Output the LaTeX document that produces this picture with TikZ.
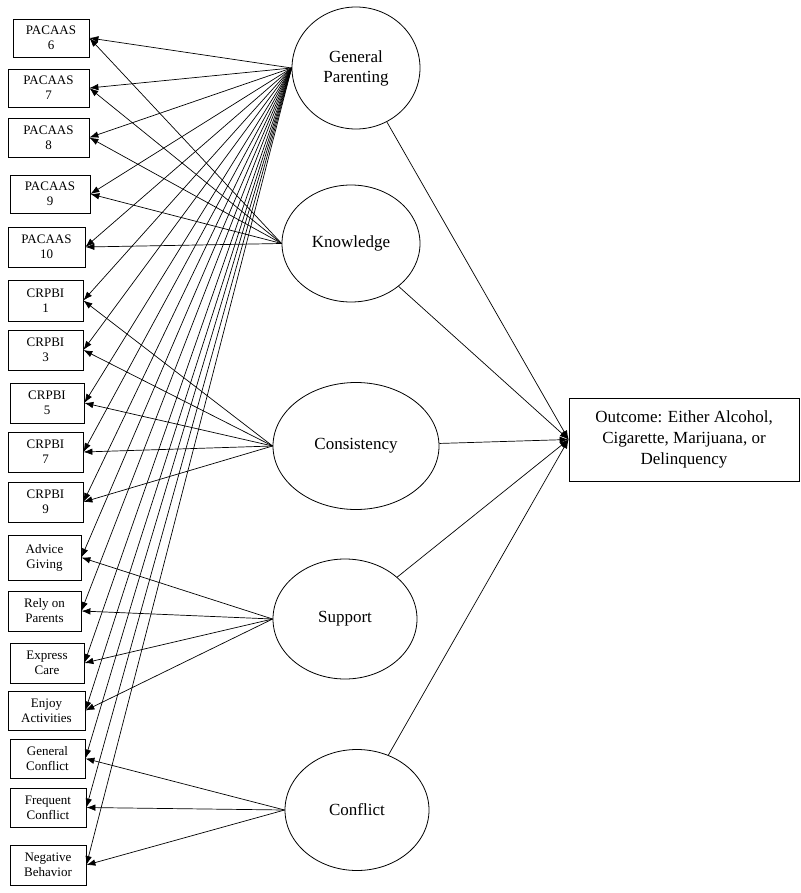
\documentclass[tikz,border=0pt]{standalone}
\usepackage{fontspec}
\setmainfont{Liberation Serif}
\usetikzlibrary{shapes.geometric,arrows.meta}
\begin{document}
\begin{tikzpicture}[x=1pt,y=-1pt,
 box/.style={draw,line width=0.8pt,inner sep=0pt,align=center,font=\fontsize{13}{15}\selectfont},
 lat/.style={draw,ellipse,line width=0.8pt,inner sep=0pt,align=center,font=\fontsize{17}{20}\selectfont},
 arr/.style={line width=0.7pt,-{Latex[length=9pt,width=6.5pt]}}]
\useasboundingbox (0,0) rectangle (800,893);
% indicator boxes
\node[box,minimum width=76pt,minimum height=38pt] (p6) at (51,38) {PACAAS\\6};
\node[box,minimum width=81pt,minimum height=38pt] (p7) at (48.5,88) {PACAAS\\7};
\node[box,minimum width=81pt,minimum height=39pt] (p8) at (48.5,137.5) {PACAAS\\8};
\node[box,minimum width=80pt,minimum height=38pt] (p9) at (50,194) {PACAAS\\9};
\node[box,minimum width=77pt,minimum height=40pt] (p10) at (46.5,247) {PACAAS\\10};
\node[box,minimum width=75pt,minimum height=41pt] (c1) at (45.5,300.5) {CRPBI\\1};
\node[box,minimum width=75pt,minimum height=40pt] (c3) at (45.5,350) {CRPBI\\3};
\node[box,minimum width=74pt,minimum height=40pt] (c5) at (47,403) {CRPBI\\5};
\node[box,minimum width=75pt,minimum height=40pt] (c7) at (45.5,452) {CRPBI\\7};
\node[box,minimum width=75pt,minimum height=40pt] (c9) at (45.5,502) {CRPBI\\9};
\node[box,minimum width=73pt,minimum height=45pt] (ag) at (44.5,557.5) {Advice\\Giving};
\node[box,minimum width=73pt,minimum height=40pt] (rp) at (44.5,611) {Rely on\\Parents};
\node[box,minimum width=74pt,minimum height=40pt] (ec) at (47,663) {Express\\Care};
\node[box,minimum width=77pt,minimum height=39pt] (ea) at (46.5,710.5) {Enjoy\\Activities};
\node[box,minimum width=75pt,minimum height=39pt] (gc) at (47.5,758.5) {General\\Conflict};
\node[box,minimum width=76pt,minimum height=39pt] (fc) at (48,807.5) {Frequent\\Conflict};
\node[box,minimum width=76pt,minimum height=40pt] (nb) at (48,865) {Negative\\Behavior};
% latent factors
\node[lat,minimum width=128pt,minimum height=122pt] (gp) at (356,68) {General\\Parenting};
\node[lat,minimum width=138pt,minimum height=117pt] (kn) at (351,243.5) {Knowledge};
\node[lat,minimum width=166pt,minimum height=127pt] (cs) at (356,446) {Consistency};
\node[lat,minimum width=144pt,minimum height=120pt] (sp) at (345,619) {Support};
\node[lat,minimum width=144pt,minimum height=121pt] (cf) at (357,810) {Conflict};
% outcome
\node[box,minimum width=230pt,minimum height=83pt,font=\fontsize{17}{21}\selectfont] (out) at (684,439.5) {Outcome: Either Alcohol,\\Cigarette, Marijuana, or\\Delinquency};
% loadings
\foreach \t in {p6,p7,p8,p9,p10,c1,c3,c5,c7,c9,ag,rp,ec,ea,gc,fc,nb}
  \draw[arr] (gp.west) -- (\t.east);
\foreach \t in {p6,p7,p8,p9,p10}
  \draw[arr] (kn.west) -- (\t.east);
\foreach \t in {c1,c3,c5,c7,c9}
  \draw[arr] (cs.west) -- (\t.east);
\foreach \t in {ag,rp,ec,ea}
  \draw[arr] (sp.west) -- (\t.east);
\foreach \t in {gc,fc,nb}
  \draw[arr] (cf.west) -- (\t.east);
% paths to outcome
\foreach \f in {gp,kn,cs,sp,cf}
  \draw[arr] (\f) -- (out.west);
\end{tikzpicture}
\end{document}
